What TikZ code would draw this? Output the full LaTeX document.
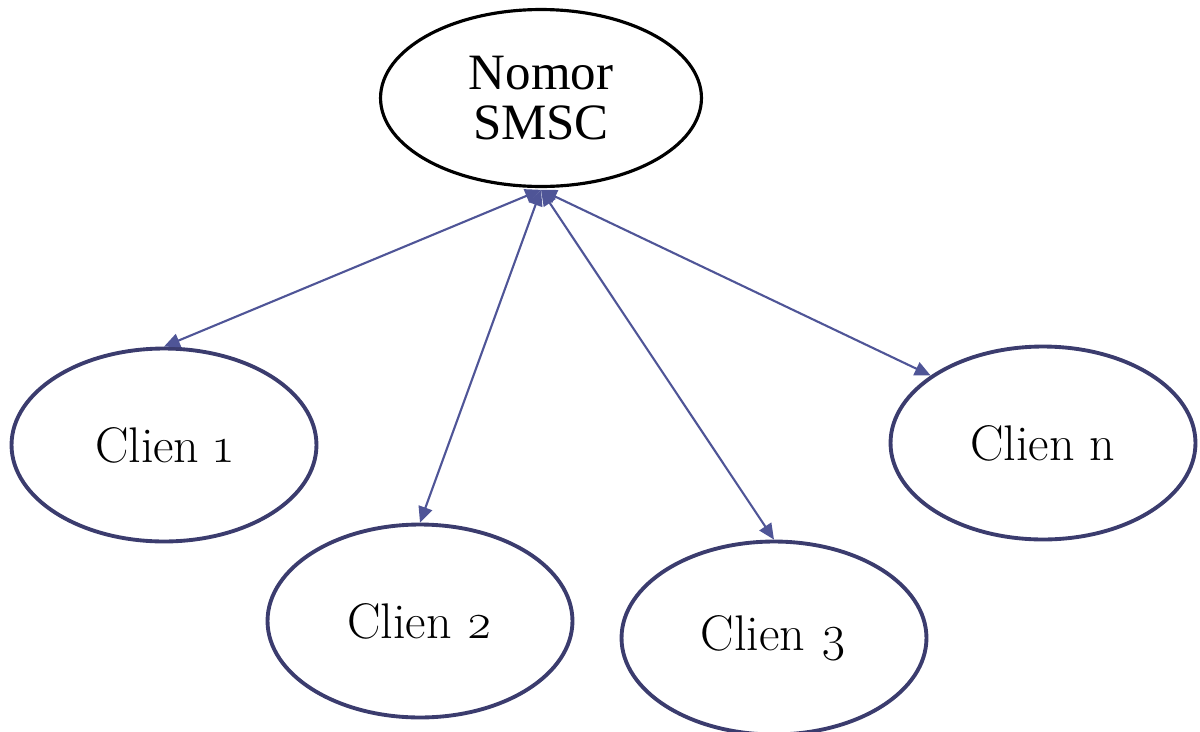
\documentclass[tikz,border=0pt]{standalone}
\usepackage{fontspec}
\setmainfont{Liberation Serif}
\newfontfamily\clientfont{Latin Modern Roman}[Numbers=OldStyle]
\usepackage{tikz}
\usetikzlibrary{positioning}
\usetikzlibrary{shapes,arrows.meta}
\definecolor{linkblue}{HTML}{4F5597}
\definecolor{clientblue}{HTML}{3B3C6E}
\tikzstyle{server} = [ellipse, draw=black, line width=1.8pt, align=center, inner sep=0pt, minimum width=6.42cm, minimum height=3.54cm, font=\fontsize{29}{28.5}\selectfont]
\tikzstyle{client} = [ellipse, draw=clientblue, line width=2.2pt, inner sep=0pt, minimum width=6.1cm, minimum height=3.86cm, font=\clientfont\fontsize{28.5}{30}\selectfont]
\tikzstyle{arrow} = [draw, linkblue, line width=1.2pt, {Triangle[length=9pt,width=8pt]}-{Triangle[length=9pt,width=8pt]}]

\begin{document}
\begin{tikzpicture}[x=0.02cm, y=-0.02cm]
\useasboundingbox (0, 0) rectangle (1200, 731);
%% server
\node [server] at (541, 98) (smsc) {Nomor\\SMSC};
\coordinate (hub) at ([yshift=-1]smsc.south);

%% clients
\node [client] at (164, 445) (c1) {Clien 1};
\node [client] at (420, 621) (c2) {Clien 2};
\node [client] at (774, 638) (c3) {Clien 3};
\node [client] at (1043, 443) (cn) {Clien n};

%% links
\path [arrow] (hub) to (c1.north);
\path [arrow] (hub) to (c2.north);
\path [arrow] (hub) to (c3.north);
\path [arrow] (hub) to (cn.149);
\end{tikzpicture}
\end{document}
